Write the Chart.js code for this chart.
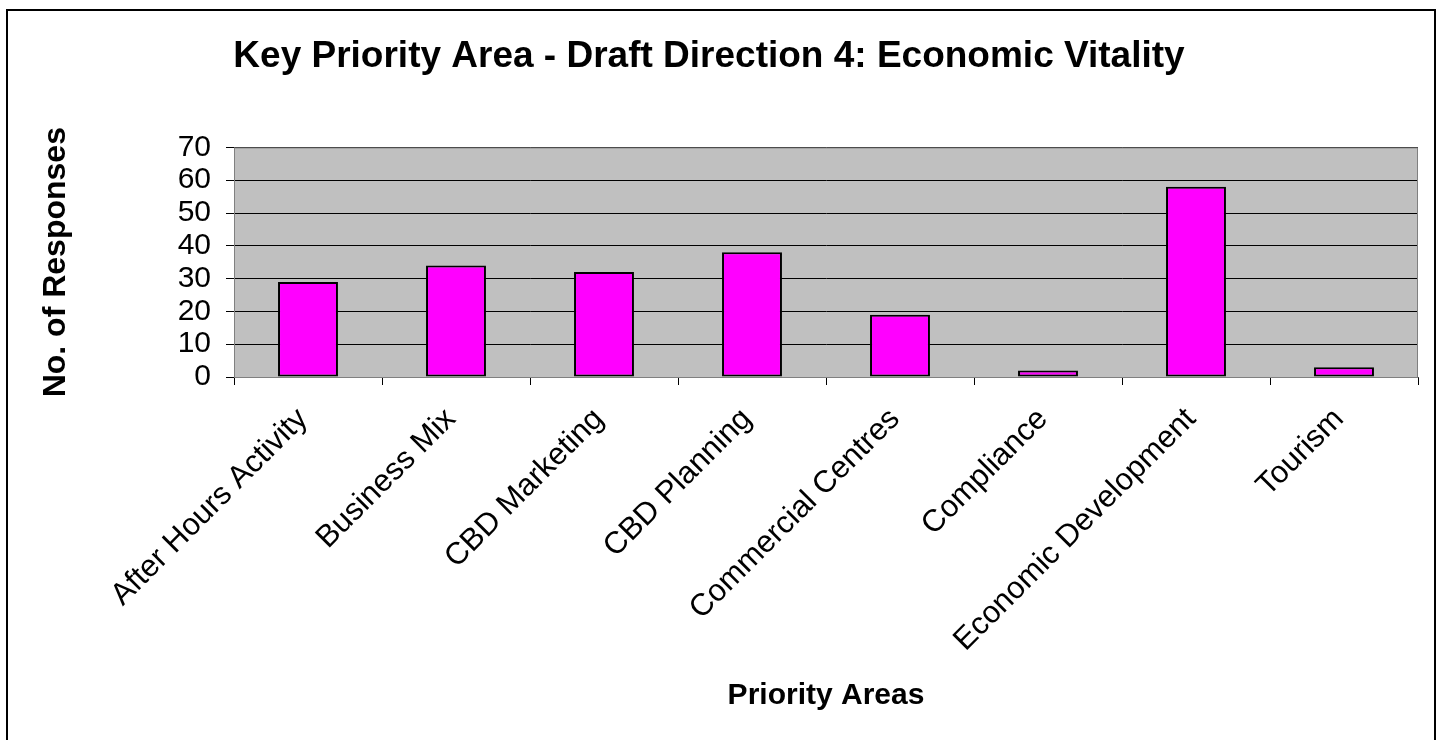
<!DOCTYPE html>
<html>
<head>
<meta charset="utf-8">
<title>Key Priority Area - Draft Direction 4: Economic Vitality</title>
<script src="https://cdn.jsdelivr.net/npm/chart.js@4.4.1/dist/chart.umd.min.js"></script>
<style>
  html, body { margin: 0; padding: 0; background: #ffffff; }
  #wrap { width: 1442px; height: 740px; position: relative; }
</style>
</head>
<body>
<div id="wrap"><canvas id="chart" width="1442" height="740"></canvas></div>
<script>
const chartTitle = "Key Priority Area - Draft Direction 4: Economic Vitality";
const xTitle = "Priority Areas";
const yTitle = "No. of Responses";

const categories = [
  "After Hours Activity",
  "Business Mix",
  "CBD Marketing",
  "CBD Planning",
  "Commercial Centres",
  "Compliance",
  "Economic Development",
  "Tourism",
];
const responses = [29, 34, 32, 38, 19, 2, 58, 3];

const yMin = 0;
const yMax = 70;
const yStep = 10;

const FONT = '"Liberation Sans", Arial, Helvetica, sans-serif';

// grey plot area + outer frame, like the old Excel chart
const frame = {
  id: "frame",
  beforeDraw(chart) {
    const { ctx, chartArea } = chart;
    ctx.save();
    ctx.fillStyle = "#ffffff";
    ctx.fillRect(0, 0, chart.width, chart.height);
    ctx.strokeStyle = "#000000";
    ctx.lineWidth = 2;
    ctx.strokeRect(7, 10, 1428, 740);
    ctx.fillStyle = "#c0c0c0";
    ctx.fillRect(chartArea.left, chartArea.top, chartArea.right - chartArea.left, chartArea.bottom - chartArea.top);
    ctx.restore();
  },
  afterDatasetsDraw(chart) {
    const { ctx, chartArea } = chart;
    ctx.save();
    ctx.strokeStyle = "#808080";
    ctx.lineWidth = 1;
    ctx.strokeRect(chartArea.left + 0.5, chartArea.top + 0.5, chartArea.right - chartArea.left - 1, chartArea.bottom - chartArea.top);
    ctx.restore();
  },
};

const ctx = document.getElementById("chart").getContext("2d");
const chart = new Chart(ctx, {
  type: "bar",
  data: {
    labels: categories,
    datasets: [
      {
        label: "Responses",
        data: responses,
        backgroundColor: "#ff00ff",
        borderColor: "#000000",
        borderWidth: 2,
        borderSkipped: false,
        barPercentage: 0.405,
        categoryPercentage: 1,
      },
    ],
  },
  options: {
    responsive: false,
    animation: false,
    layout: { padding: { left: 0, right: 24, top: 0, bottom: 0 } },
    plugins: {
      legend: { display: false },
      tooltip: { enabled: false },
      title: {
        display: true,
        text: chartTitle,
        color: "#000000",
        font: { family: FONT, size: 37, weight: "bold" },
        padding: { top: 35, bottom: 68 },
      },
    },
    scales: {
      x: {
        afterFit: (scale) => { scale.height = 363; },
        grid: {
          offset: true,
          drawOnChartArea: false,
          drawTicks: true,
          tickLength: 8,
          color: "#000000",
        },
        border: { display: true, color: "#404040", width: 1 },
        ticks: {
          color: "#000000",
          font: { family: FONT, size: 31 },
          minRotation: 45,
          maxRotation: 45,
          autoSkip: false,
          padding: 16,
          labelOffset: -5,
        },
        title: {
          display: true,
          text: xTitle,
          color: "#000000",
          font: { family: FONT, size: 30, weight: "bold" },
          padding: { top: 0, bottom: 26 },
        },
      },
      y: {
        min: yMin,
        max: yMax,
        afterFit: (scale) => { scale.width = 234; },
        grid: {
          color: "#000000",
          lineWidth: 1,
          drawTicks: true,
          tickLength: 8,
        },
        border: { display: true, color: "#404040", width: 1 },
        ticks: {
          stepSize: yStep,
          autoSkip: false,
          color: "#000000",
          font: { family: FONT, size: 30 },
          padding: 15,
        },
        title: {
          display: true,
          text: yTitle,
          color: "#000000",
          font: { family: FONT, size: 32, weight: "bold" },
          padding: { top: 37, bottom: 0 },
        },
      },
    },
  },
  plugins: [frame],
});
</script>
</body>
</html>
